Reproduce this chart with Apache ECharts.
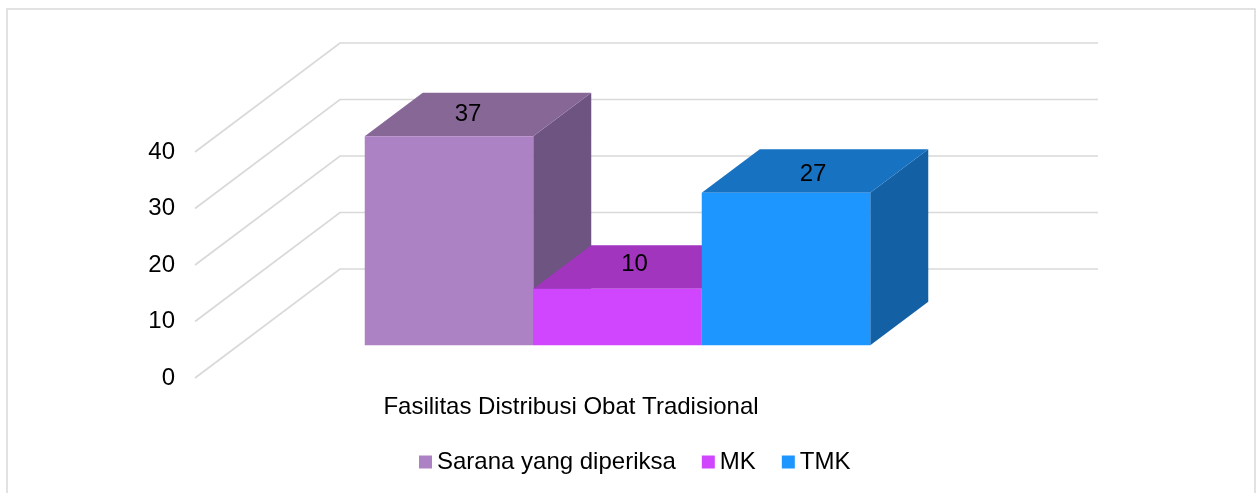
<!DOCTYPE html>
<html><head><meta charset="utf-8">
<style>html,body{margin:0;padding:0;background:#fff}#c{width:1256px;height:493px}</style>
<script src="https://cdn.jsdelivr.net/npm/echarts@6/dist/echarts.min.js"></script>
</head><body><div id="c"></div>
<script>
var categories = ['Fasilitas Distribusi Obat Tradisional'];
var seriesNames = ['Sarana yang diperiksa', 'MK', 'TMK'];
var saranaValues = [37];
var mkValues = [10];
var tmkValues = [27];
var yTicks = [0, 10, 20, 30, 40];

var FONT = '"Liberation Sans", Arial, sans-serif';
var FRONT = ['#AC82C5', '#D046FF', '#1E96FF'];
var TOP = ['#876796', '#A135BE', '#1772C2'];
var SIDE = ['#6E5480', '#8A2CA6', '#1360A4'];
var WALL_DX = 145, WALL_DY = -109;          // depth of the 3D floor in pixels
var BAR_T0 = 0.3, BAR_T1 = 0.7;             // bar depth span along the floor
var BAR_WIDTH = 0.2223;                     // share of category band
var LABEL_SHIFT = [[-10, 0], [-12, -3], [-2, 3]];

function wallItem(params, api) {
  var v = api.value(0);
  var cs = params.coordSys;
  var y = api.coord([0, v])[1];
  var x0 = cs.x, x1 = cs.x + cs.width;
  return {
    type: 'polyline',
    shape: { points: [[x0, y], [x0 + WALL_DX, y + WALL_DY], [x1 + WALL_DX, y + WALL_DY]] },
    style: { fill: 'none', stroke: '#D9D9D9', lineWidth: 1.7 }
  };
}

function barItem(idx) {
  return function (params, api) {
    var c = api.value(0), v = api.value(1);
    var band = api.size([1, 0])[0];
    var w = band * BAR_WIDTH;
    var cx = api.coord([c, 0])[0];
    var y0 = api.coord([c, 0])[1];
    var yv = api.coord([c, v])[1];
    var x = cx + (idx - 1.5) * w + BAR_T0 * WALL_DX;
    var b = y0 + BAR_T0 * WALL_DY;
    var t = yv + BAR_T0 * WALL_DY;
    var dx = (BAR_T1 - BAR_T0) * WALL_DX, dy = (BAR_T1 - BAR_T0) * WALL_DY;
    return {
      type: 'group',
      children: [
        { type: 'polygon', shape: { points: [[x + w, t], [x + w + dx, t + dy], [x + w + dx, b + dy], [x + w, b]] },
          style: { fill: SIDE[idx] } },
        { type: 'polygon', shape: { points: [[x, t], [x + dx, t + dy], [x + w + dx, t + dy], [x + w, t]] },
          style: { fill: TOP[idx] } },
        { type: 'rect', shape: { x: x, y: t, width: w, height: b - t },
          style: { fill: FRONT[idx] } },
        { type: 'text', z2: 10,
          style: { x: x + w / 2 + dx / 2 + LABEL_SHIFT[idx][0], y: t + dy / 2 + LABEL_SHIFT[idx][1],
            text: String(v), fill: '#000', font: '24px ' + FONT, align: 'center', verticalAlign: 'middle' } }
      ]
    };
  };
}

var valueLists = [saranaValues, mkValues, tmkValues];
var series = [{
  type: 'custom', name: 'walls', silent: true, clip: false, z: 1,
  renderItem: wallItem,
  encode: { y: 0 },
  data: yTicks.map(function (t) { return [t]; })
}];
seriesNames.forEach(function (n, i) {
  series.push({
    type: 'custom', name: n, clip: false, z: 2 + i,
    renderItem: barItem(i),
    itemStyle: { color: FRONT[i] },
    encode: { x: 0, y: 1 },
    data: valueLists[i].map(function (v, k) { return [k, v]; })
  });
});

var chart = echarts.init(document.getElementById('c'), null, { renderer: 'canvas' });
chart.setOption({
  animation: false,
  backgroundColor: '#fff',
  graphic: [{
    type: 'rect', silent: true, z: 0,
    shape: { x: 7, y: 9, width: 1248, height: 500 },
    style: { fill: 'none', stroke: '#D9D9D9', lineWidth: 1.5 }
  }],
  grid: { left: 195, right: 303, top: 152, bottom: 115, containLabel: false },
  xAxis: {
    type: 'category', data: categories,
    axisLine: { show: false }, axisTick: { show: false }, splitLine: { show: false },
    axisLabel: { color: '#000', fontFamily: FONT, fontSize: 24, margin: 17, padding: [0, 6, 0, 0] }
  },
  yAxis: {
    type: 'value', min: 0, max: 40, interval: 10,
    axisLine: { show: false }, axisTick: { show: false }, splitLine: { show: false },
    axisLabel: { color: '#000', fontFamily: FONT, fontSize: 24, margin: 20, padding: [3, 0, 0, 0] }
  },
  legend: {
    data: seriesNames, left: 414, top: 445,
    icon: 'rect', itemWidth: 13, itemHeight: 13, itemGap: 26,
    textStyle: { color: '#000', fontFamily: FONT, fontSize: 24 }
  },
  series: series
});
</script></body></html>
